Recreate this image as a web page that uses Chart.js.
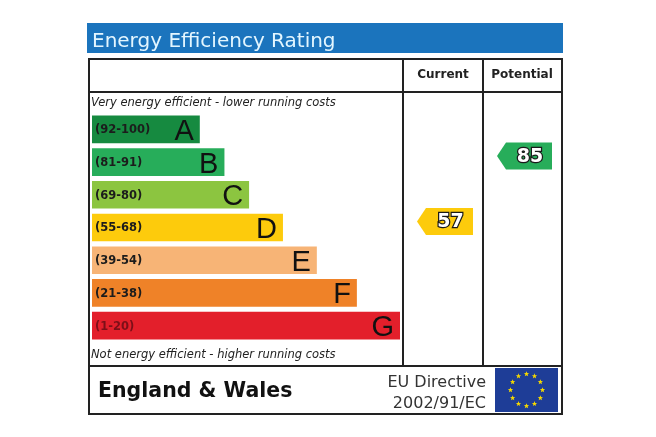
<!DOCTYPE html>
<html>
<head>
<meta charset="utf-8">
<script src="https://cdn.jsdelivr.net/npm/chart.js@4.4.1/dist/chart.umd.min.js"></script>
<style>
  html, body { margin: 0; padding: 0; background: #fff; }
  #wrap { width: 656px; height: 437px; position: relative; }
</style>
</head>
<body>
<div id="wrap"><canvas id="epcChart"></canvas></div>
<script>
// Rating bands, top (most efficient) to bottom
const bands = ['A', 'B', 'C', 'D', 'E', 'F', 'G'];
const ranges = ['(92-100)', '(81-91)', '(69-80)', '(55-68)', '(39-54)', '(21-38)', '(1-20)'];
const bandMins = [92, 81, 69, 55, 39, 21, 1];
const barLengths = [35, 43, 51, 62, 73, 86, 100]; // relative bar length, G = 100
const bandColors = ['#168a40', '#27ad5a', '#8cc540', '#fdcb0c', '#f7b476', '#ef8228', '#e31f2b'];

const currentRating = 57;
const potentialRating = 85;

const titleText = 'Energy Efficiency Rating';
const topNote = 'Very energy efficient - lower running costs';
const bottomNote = 'Not energy efficient - higher running costs';

function bandOf(rating) {
    return bandMins.findIndex(m => rating >= m);
}

// frame: title bar, table grid, texts, rating arrows, footer
const epcFrame = {
    id: 'epcFrame',
    beforeDraw(chart) {
        const c = chart.ctx;
        c.save();
        c.fillStyle = '#fff';
        c.fillRect(0, 0, chart.width, chart.height);
        c.fillStyle = '#1b74bd';
        c.fillRect(87, 23, 476, 30);
        c.fillStyle = '#e3f6ff';
        c.font = '20px "DejaVu Sans"';
        c.textBaseline = 'alphabetic';
        c.fillText(titleText, 92, 47);
        c.restore();
    },
    afterDatasetsDraw(chart) {
        const c = chart.ctx;
        const xs = chart.scales.x, ys = chart.scales.y;
        c.save();

        // grid
        c.strokeStyle = '#222';
        c.lineWidth = 2;
        c.strokeRect(89, 59, 473, 355);
        c.beginPath();
        c.moveTo(89, 92); c.lineTo(562, 92);
        c.moveTo(89, 366); c.lineTo(562, 366);
        c.moveTo(403, 59); c.lineTo(403, 366);
        c.moveTo(483, 59); c.lineTo(483, 366);
        c.stroke();

        // headers
        c.fillStyle = '#222';
        c.font = 'bold 12px "DejaVu Sans"';
        c.textAlign = 'center';
        c.fillText('Current', 443, 78);
        c.fillText('Potential', 522, 78);

        // notes
        c.textAlign = 'left';
        c.font = 'italic 11.5px "DejaVu Sans"';
        c.fillStyle = '#222';
        c.fillText(topNote, 91, 106);
        c.fillText(bottomNote, 91, 358);

        // band labels
        bands.forEach((b, i) => {
            const yc = ys.getPixelForValue(i);
            const xe = xs.getPixelForValue(barLengths[i]);
            c.textBaseline = 'middle';
            c.textAlign = 'left';
            c.font = 'bold 11.5px "DejaVu Sans"';
            c.fillStyle = i === 6 ? '#7c0f18' : '#1c1c1c';
            c.fillText(ranges[i], xs.left + 3, yc + 1);
            c.textBaseline = 'alphabetic';
            c.textAlign = 'right';
            c.font = '29px "Liberation Sans"';
            c.fillStyle = '#111';
            c.fillText(b, xe - 6, yc + 10.5);
        });

        // rating arrows
        function arrow(rating, colLeft, colRight) {
            const idx = bandOf(rating);
            const yc = ys.getPixelForValue(idx) - 6;
            const h = 27;
            const tip = colLeft + 14, body = tip + 9, right = colRight - 10;
            c.fillStyle = bandColors[idx];
            c.beginPath();
            c.moveTo(tip, yc);
            c.lineTo(body, yc - h / 2);
            c.lineTo(right, yc - h / 2);
            c.lineTo(right, yc + h / 2);
            c.lineTo(body, yc + h / 2);
            c.closePath();
            c.fill();
            c.font = 'bold 19px "DejaVu Sans"';
            c.textAlign = 'center';
            c.textBaseline = 'middle';
            c.lineWidth = 2.5;
            c.strokeStyle = '#1a1a1a';
            c.strokeText(String(rating), (body + right) / 2 + 1, yc + 1);
            c.fillStyle = '#fff';
            c.fillText(String(rating), (body + right) / 2 + 1, yc + 1);
        }
        arrow(currentRating, 403, 483);
        arrow(potentialRating, 483, 562);

        // footer
        c.textBaseline = 'alphabetic';
        c.textAlign = 'left';
        c.fillStyle = '#111';
        c.font = 'bold 20.5px "DejaVu Sans"';
        c.fillText('England & Wales', 98, 397);
        c.textAlign = 'right';
        c.fillStyle = '#333';
        c.font = '16px "DejaVu Sans"';
        c.fillText('EU Directive', 486, 387);
        c.fillText('2002/91/EC', 486, 408);

        // EU flag
        c.fillStyle = '#1e3d97';
        c.fillRect(495, 368, 63, 44);
        c.fillStyle = '#f5d800';
        for (let k = 0; k < 12; k++) {
            const a = k * Math.PI / 6;
            const sx = 526.5 + 16 * Math.cos(a), sy = 390 + 16 * Math.sin(a);
            c.beginPath();
            for (let p = 0; p < 10; p++) {
                const r = p % 2 === 0 ? 2.8 : 1.2;
                const t = -Math.PI / 2 + p * Math.PI / 5;
                c.lineTo(sx + r * Math.cos(t), sy + r * Math.sin(t));
            }
            c.closePath();
            c.fill();
        }
        c.restore();
    }
};

const ctx = document.getElementById('epcChart').getContext('2d');

const epcChart = new Chart(ctx, {
    type: 'bar',
    data: {
        labels: bands,
        datasets: [{
            data: barLengths,
            backgroundColor: bandColors,
            borderWidth: 0,
            categoryPercentage: 1,
            barPercentage: 0.845
        }]
    },
    options: {
        indexAxis: 'y',
        responsive: true,
        maintainAspectRatio: false,
        animation: false,
        layout: { padding: { left: 92, right: 256, top: 113, bottom: 95 } },
        plugins: {
            legend: { display: false },
            tooltip: { enabled: false }
        },
        scales: {
            x: { display: false, min: 0, max: 100 },
            y: { display: false }
        }
    },
    plugins: [epcFrame]
});
</script>
</body>
</html>
